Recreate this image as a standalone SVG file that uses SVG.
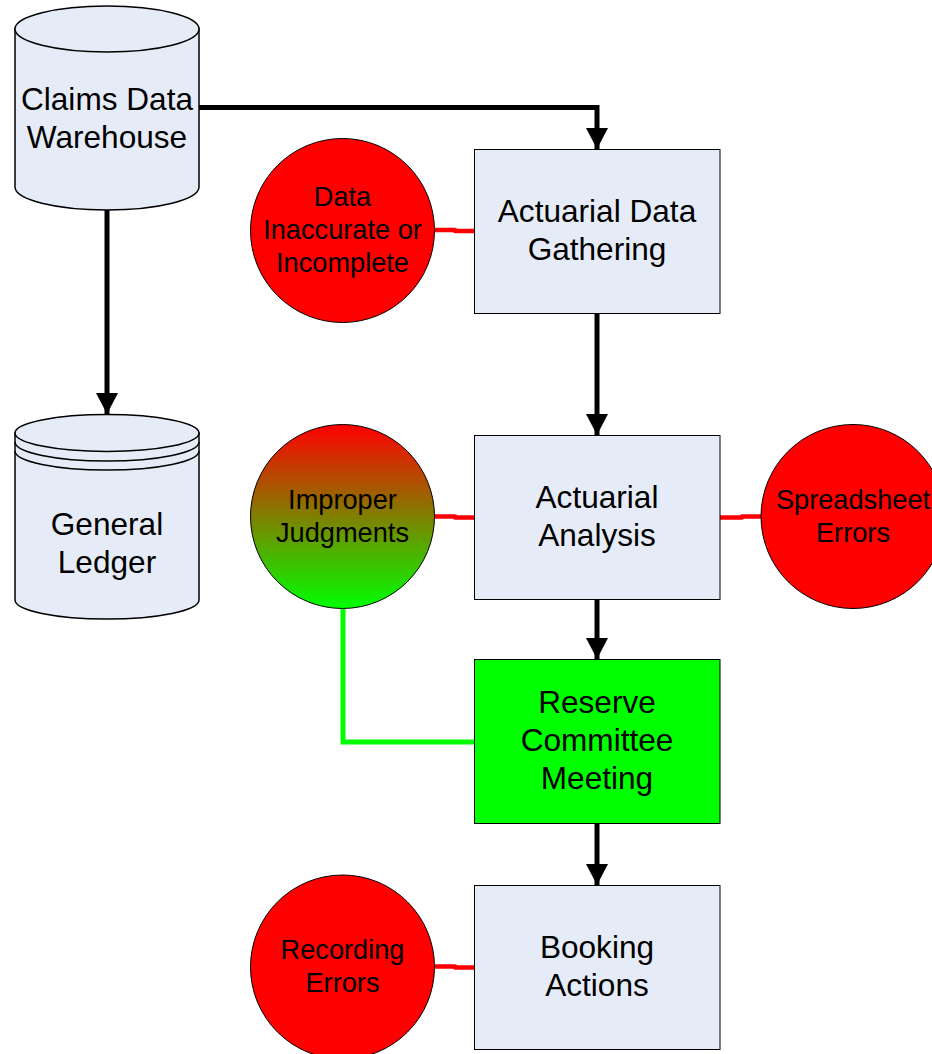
<svg xmlns="http://www.w3.org/2000/svg" width="932" height="1054" viewBox="0 0 932 1054">
<style>
text{font-family:"Liberation Sans",Arial,sans-serif;fill:#000;text-anchor:middle}
.t{font-size:31.600px}
.c{font-size:27.200px}
.box{fill:#e6ecf7;stroke:#000;stroke-width:1}
.db{fill:#e6ecf7;stroke:#000;stroke-width:1.500}
.arc{fill:none;stroke:#000;stroke-width:1.500}
.risk{fill:#f00;stroke:#000;stroke-width:1}
.flow{fill:none;stroke:#000;stroke-width:5}
.red{fill:none;stroke:#f00;stroke-width:4.500;stroke-linecap:round}
.green{fill:none;stroke:#0f0;stroke-width:5}
</style>
<defs>
<marker id="ah" markerUnits="userSpaceOnUse" markerWidth="22" markerHeight="24" refX="21" refY="11" orient="auto"><path d="M0 0L21 11L0 22Z" fill="#000"/></marker>
<linearGradient id="rg" x1="0" y1="0" x2="0" y2="1"><stop offset="0" stop-color="#f00"/><stop offset="1" stop-color="#0f0"/></linearGradient>
</defs>
<g id="connectors">
<path class="flow" d="M199 107.500H597V149" marker-end="url(#ah)"/>
<path class="flow" d="M107 209V414" marker-end="url(#ah)"/>
<path class="flow" d="M597 312V435" marker-end="url(#ah)"/>
<path class="flow" d="M597 598V659" marker-end="url(#ah)"/>
<path class="flow" d="M597 822V885" marker-end="url(#ah)"/>
<path class="red" d="M434 230H455M455 231H475"/>
<path class="red" d="M434 516.500H455M455 517.500H475"/>
<path class="red" d="M720 517.500H742M742 516.500H761"/>
<path class="red" d="M434 966.500H455M455 967.500H475"/>
<path class="green" d="M343 608V742H475"/>
</g>
<g id="claims-data-warehouse">
<path class="db" d="M15 29V187C15 199.700 56.200 210 107 210S199 199.700 199 187V29Z"/>
<ellipse class="db" cx="107" cy="29" rx="92" ry="23"/>
<text class="t" x="107" y="110">Claims Data</text>
<text class="t" x="107" y="148">Warehouse</text>
</g>
<g id="general-ledger">
<path class="db" d="M15 433V600C15 610.500 56.200 619 107 619S199 610.500 199 600V433Z"/>
<ellipse class="db" cx="107" cy="433" rx="92" ry="18.500"/>
<path class="arc" d="M15 442C15 452.500 56.200 461 107 461S199 452.500 199 442"/>
<path class="arc" d="M15 451C15 461.500 56.200 470 107 470S199 461.500 199 451"/>
<text class="t" x="107" y="535">General</text>
<text class="t" x="107" y="573">Ledger</text>
</g>
<g id="actuarial-data-gathering">
<rect class="box" x="474.500" y="149.500" width="245.500" height="164"/>
<text class="t" x="597" y="222">Actuarial Data</text>
<text class="t" x="597" y="260">Gathering</text>
</g>
<g id="actuarial-analysis">
<rect class="box" x="474.500" y="435.500" width="245.500" height="164"/>
<text class="t" x="597" y="508">Actuarial</text>
<text class="t" x="597" y="546">Analysis</text>
</g>
<g id="reserve-committee-meeting">
<rect x="474.500" y="659.500" width="245.500" height="164" fill="#0f0" stroke="#000"/>
<text class="t" x="597" y="713">Reserve</text>
<text class="t" x="597" y="751">Committee</text>
<text class="t" x="597" y="789">Meeting</text>
</g>
<g id="booking-actions">
<rect class="box" x="474.500" y="885.500" width="245.500" height="164"/>
<text class="t" x="597" y="958">Booking</text>
<text class="t" x="597" y="996">Actions</text>
</g>
<g id="data-inaccurate">
<circle class="risk" cx="342.500" cy="230.500" r="92"/>
<text class="c" x="342.500" y="205.500">Data</text>
<text class="c" x="342.500" y="239">Inaccurate or</text>
<text class="c" x="342.500" y="272">Incomplete</text>
</g>
<g id="improper-judgments">
<circle cx="342.500" cy="516.500" r="92" fill="url(#rg)" stroke="#000"/>
<text class="c" x="342.500" y="509">Improper</text>
<text class="c" x="342.500" y="541.500">Judgments</text>
</g>
<g id="spreadsheet-errors">
<circle class="risk" cx="853" cy="516.500" r="92"/>
<text class="c" x="853" y="509">Spreadsheet</text>
<text class="c" x="853" y="541.500">Errors</text>
</g>
<g id="recording-errors">
<circle class="risk" cx="342.500" cy="967" r="92"/>
<text class="c" x="342.500" y="958.500">Recording</text>
<text class="c" x="342.500" y="991.500">Errors</text>
</g>
</svg>
